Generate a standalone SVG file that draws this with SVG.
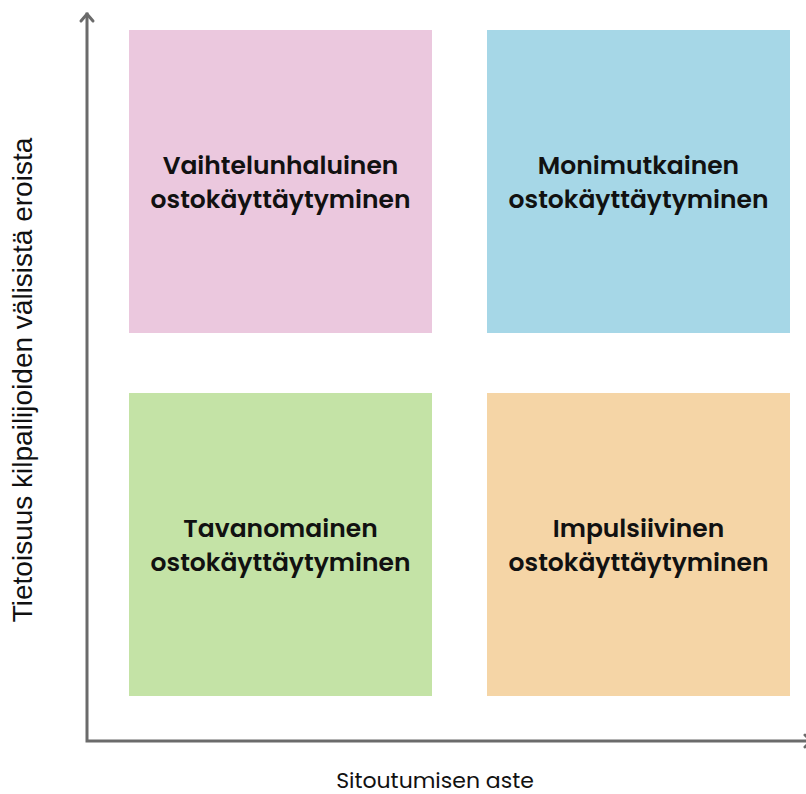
<svg xmlns="http://www.w3.org/2000/svg" width="806" height="794" viewBox="0 0 806 794">
<style>
.box-label{font-family:"Poppins","Lato","Liberation Sans",sans-serif;font-weight:600;font-size:25px;fill:#111;text-anchor:middle}
.axis-label{font-family:"Poppins","Lato","Liberation Sans",sans-serif;font-size:22px;fill:#111;text-anchor:middle}
.y-label{font-family:"Liberation Sans","Arial",sans-serif;font-size:28px;fill:#111;text-anchor:middle}
.axis{stroke:#6b6b6b;stroke-width:3;fill:none;stroke-linecap:square}
</style>
<rect width="806" height="794" fill="#fff"/>
<g id="connectors">
<path class="axis" d="M87,14 L87,741 L812,741"/>
<path d="M81,21 L87,14 L93,21" fill="none" stroke="#6b6b6b" stroke-width="3" stroke-linecap="round" stroke-linejoin="round"/>
<path d="M805,735 L811,741 L805,747" fill="none" stroke="#6b6b6b" stroke-width="3" stroke-linecap="round" stroke-linejoin="round"/>
</g>
<g id="q1"><rect x="129" y="30" width="303" height="303" fill="#ebc8de"/>
<text class="box-label" x="280.5" y="174">Vaihtelunhaluinen</text>
<text class="box-label" x="280.5" y="208">ostokäyttäytyminen</text></g>
<g id="q2"><rect x="487" y="30" width="303" height="303" fill="#a6d7e7"/>
<text class="box-label" x="638.5" y="174">Monimutkainen</text>
<text class="box-label" x="638.5" y="208">ostokäyttäytyminen</text></g>
<g id="q3"><rect x="129" y="393" width="303" height="303" fill="#c4e3a6"/>
<text class="box-label" x="280.5" y="537">Tavanomainen</text>
<text class="box-label" x="280.5" y="571">ostokäyttäytyminen</text></g>
<g id="q4"><rect x="487" y="393" width="303" height="303" fill="#f5d5a6"/>
<text class="box-label" x="638.5" y="537">Impulsiivinen</text>
<text class="box-label" x="638.5" y="571">ostokäyttäytyminen</text></g>
<g id="labels">
<text class="axis-label" x="435" y="788">Sitoutumisen aste</text>
<text class="y-label" transform="translate(32,380) rotate(-90)">Tietoisuus kilpailijoiden välisistä eroista</text>
</g>
</svg>
